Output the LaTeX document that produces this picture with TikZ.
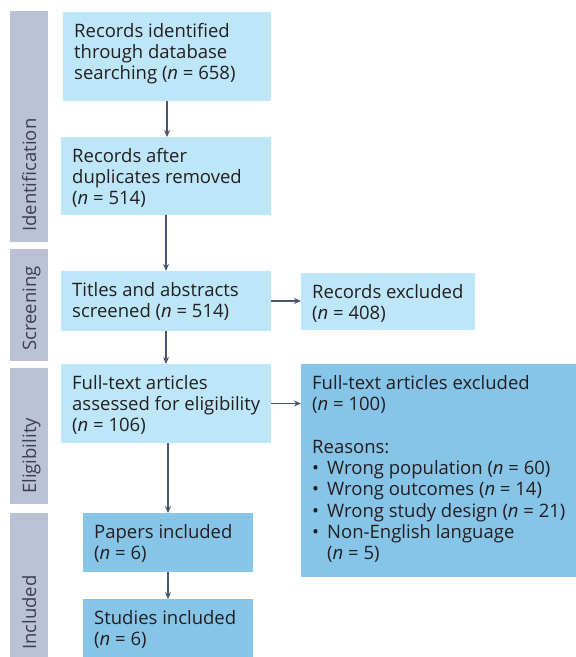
\documentclass[tikz,border=0pt]{standalone}
\usepackage{fontspec}
\setmainfont{Open Sans}
\usetikzlibrary{arrows.meta,calc}
\definecolor{lightbox}{RGB}{189,230,249}
\definecolor{darkbox}{RGB}{134,196,232}
\definecolor{barcol}{RGB}{188,194,214}
\definecolor{arrowcol}{RGB}{74,86,112}
\definecolor{txtcol}{RGB}{35,31,32}
\definecolor{bartxt}{RGB}{60,64,80}
\tikzset{
  boxbase/.style={draw=none, anchor=north west, inner sep=0pt, outer sep=0pt},
  lbox/.style={boxbase, fill=lightbox},
  dbox/.style={boxbase, fill=darkbox},
  bar/.style={boxbase, fill=barcol, minimum width=38pt},
  txt/.style={anchor=north west, inner sep=0pt, align=left, text=txtcol,
    font=\fontsize{18.5}{21.3}\selectfont},
  bartext/.style={rotate=90, anchor=base west, inner sep=0pt, text=bartxt,
    font=\fontsize{18.5}{20}\selectfont},
  arr/.style={draw=arrowcol, line width=1.4pt, -{Stealth[length=7pt,width=6pt]}},
}
\newcommand{\nn}{\textit{n}}
\begin{document}
\begin{tikzpicture}[x=1pt,y=-1pt]
\useasboundingbox (0,0) rectangle (576,657);
% side bars
\node[bar, minimum height=231pt] (barid) at (10,11) {};
\node[bar, minimum height=112pt] (barsc) at (10,249) {};
\node[bar, minimum height=136pt] (barel) at (10,368) {};
\node[bar, minimum height=144pt] (barin) at (10,513) {};
\node[bartext] (tid) at ($(barid.south west)+(26,-10)$) {Identification};
\node[bartext] (tsc) at ($(barsc.south west)+(26,-10)$) {Screening};
\node[bartext] (tel) at ($(barel.south west)+(26,-10)$) {Eligibility};
\node[bartext] (tin) at ($(barin.south west)+(26,-7)$) {Included};
% boxes
\node[lbox, minimum width=208pt, minimum height=89pt] (b1) at (63,12) {};
\node[lbox, minimum width=210pt, minimum height=78pt] (b2) at (61,137) {};
\node[lbox, minimum width=210pt, minimum height=60pt] (b3) at (61,271) {};
\node[lbox, minimum width=210pt, minimum height=79pt] (b4) at (61,364) {};
\node[lbox, minimum width=174pt, minimum height=57pt] (ex1) at (301,273) {};
\node[dbox, minimum width=275pt, minimum height=213pt] (ex2) at (301,364) {};
\node[dbox, minimum width=170pt, minimum height=59pt] (p1) at (83,513) {};
\node[dbox, minimum width=170pt, minimum height=58pt] (s1) at (83,599) {};
% texts
\node[txt] (t1) at ($(b1.north west)+(11,11)$) {Records identified\\through database\\searching (\nn{} = 658)};
\node[txt] (t2) at ($(b2.north west)+(11,11)$) {Records after\\duplicates removed\\(\nn{} = 514)};
\node[txt] (t3) at ($(b3.north west)+(11,11)$) {Titles and abstracts\\screened (\nn{} = 514)};
\node[txt] (t4) at ($(b4.north west)+(11,11)$) {Full-text articles\\assessed for eligibility\\(\nn{} = 106)};
\node[txt] (te1) at ($(ex1.north west)+(11,11)$) {Records excluded\\(\nn{} = 408)};
\node[txt] (te2) at ($(ex2.north west)+(11,11)$) {Full-text articles excluded\\(\nn{} = 100)\\[21.3pt]Reasons:\\
\makebox[15pt][l]{•}Wrong population (\nn{} = 60)\\
\makebox[15pt][l]{•}Wrong outcomes (\nn{} = 14)\\
\makebox[15pt][l]{•}Wrong study design (\nn{} = 21)\\
\makebox[15pt][l]{•}Non-English language\\
\hspace*{15pt}(\nn{} = 5)};
\node[txt] (tp) at ($(p1.north west)+(11,11)$) {Papers included\\(\nn{} = 6)};
\node[txt] (ts) at ($(s1.north west)+(11,11)$) {Studies included\\(\nn{} = 6)};
% arrows
\draw[arr] (b1.south) -- (b1.south |- b2.north);
\draw[arr] (b2.south) -- (b2.south |- b3.north);
\draw[arr] (b3.south) -- (b3.south |- b4.north);
\draw[arr] (p1.north |- b4.south) -- (p1.north);
\draw[arr] (p1.south) -- (s1.north);
\draw[arr] (b3.east) -- (b3.east -| ex1.west);
\draw[arr] (b4.east) -- (b4.east -| ex2.west);
\end{tikzpicture}
\end{document}
